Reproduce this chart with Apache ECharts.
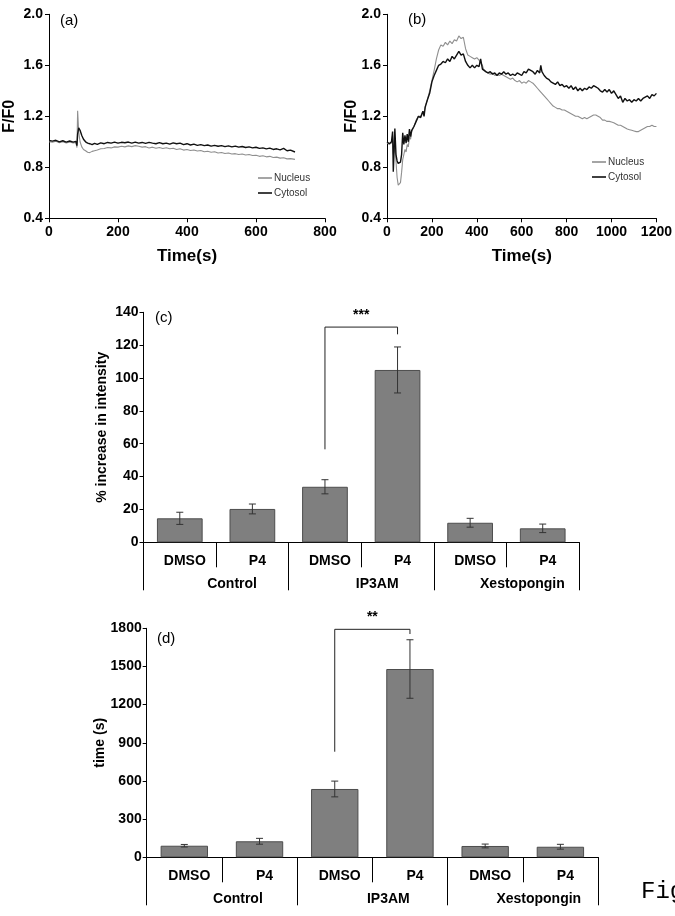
<!DOCTYPE html>
<html><head><meta charset="utf-8">
<script src="https://cdn.jsdelivr.net/npm/echarts@6/dist/echarts.min.js"></script>
<style>html,body{margin:0;padding:0;background:#fff}#c{width:675px;height:916px}</style>
</head><body><div id="c"></div>
<script>
// ---------- Panel (a) ----------
const tA = [0,10,20,30,40,50,60,70,78,81,83,86,90,95,100,106,112,118,125,132,140,150,160,170,180,190,200,210,220,230,240,250,260,270,280,290,300,310,320,330,340,350,360,370,380,390,400,410,420,430,440,450,460,470,480,490,500,510,520,530,540,550,560,570,580,590,600,610,620,630,640,650,660,670,680,690,700,713];
const cytA = [1.01,1.005,1.012,1.0,1.008,0.998,1.006,0.997,1.003,0.97,1.06,1.11,1.09,1.05,1.02,1.0,0.99,0.985,0.978,0.988,0.98,0.992,0.985,0.995,0.99,0.998,0.99,0.996,0.993,0.998,0.99,0.997,0.99,0.995,0.988,0.996,0.99,0.985,0.993,0.985,0.99,0.982,0.992,0.985,0.99,0.978,0.985,0.975,0.982,0.972,0.978,0.97,0.975,0.966,0.972,0.965,0.97,0.962,0.968,0.96,0.966,0.958,0.963,0.955,0.96,0.952,0.957,0.948,0.952,0.944,0.95,0.94,0.945,0.937,0.948,0.93,0.935,0.92];
const nucA = [1.0,0.996,1.004,0.993,1.0,0.99,0.998,0.99,0.995,0.955,1.244,1.08,1.0,0.96,0.94,0.93,0.918,0.915,0.925,0.93,0.935,0.945,0.948,0.955,0.952,0.96,0.958,0.965,0.96,0.968,0.962,0.97,0.965,0.958,0.962,0.952,0.958,0.95,0.955,0.948,0.953,0.945,0.95,0.94,0.945,0.935,0.94,0.932,0.936,0.928,0.932,0.922,0.926,0.918,0.922,0.912,0.916,0.908,0.912,0.904,0.907,0.9,0.904,0.896,0.9,0.892,0.895,0.886,0.89,0.882,0.886,0.877,0.88,0.872,0.875,0.866,0.868,0.862];

// ---------- Panel (b) ----------
const tB = [0,10,20,25,28,32,35,40,45,50,55,60,65,70,75,80,85,90,95,100,105,110,120,130,140,150,160,165,170,180,190,200,210,220,230,240,250,260,270,280,290,300,310,320,330,340,350,360,370,380,390,400,410,417,425,430,440,450,460,470,480,490,500,510,520,530,540,550,560,570,580,590,600,610,620,630,640,650,660,670,680,685,690,700,710,720,730,740,750,760,770,780,790,800,810,820,830,840,850,860,870,880,890,900,910,920,930,940,950,960,970,980,990,1000,1010,1020,1030,1040,1050,1060,1070,1080,1090,1100,1110,1120,1130,1140,1150,1160,1170,1180,1190,1200];
const cytB = [1.0,0.985,1.0,1.08,0.765,0.95,1.105,0.9,0.85,0.83,0.82,0.84,0.9,1.07,0.98,1.05,0.99,1.06,1.0,1.1,1.04,1.09,1.12,1.16,1.2,1.19,1.24,1.2,1.27,1.33,1.38,1.47,1.52,1.56,1.6,1.61,1.63,1.62,1.65,1.63,1.67,1.65,1.68,1.71,1.68,1.69,1.63,1.6,1.58,1.6,1.58,1.6,1.59,1.65,1.57,1.56,1.55,1.54,1.55,1.53,1.54,1.52,1.54,1.53,1.55,1.53,1.54,1.52,1.53,1.52,1.54,1.53,1.52,1.55,1.54,1.57,1.56,1.55,1.53,1.56,1.54,1.6,1.55,1.52,1.5,1.49,1.47,1.46,1.45,1.47,1.44,1.45,1.43,1.44,1.42,1.44,1.41,1.43,1.4,1.42,1.4,1.42,1.41,1.43,1.42,1.44,1.43,1.42,1.4,1.39,1.41,1.39,1.41,1.38,1.4,1.37,1.34,1.36,1.31,1.34,1.32,1.33,1.31,1.33,1.32,1.34,1.32,1.34,1.35,1.36,1.34,1.37,1.36,1.38];
const nucB = [0.99,0.98,0.99,1.05,0.9,0.92,1.0,0.85,0.72,0.66,0.65,0.68,0.76,0.86,0.9,0.94,0.92,0.98,0.96,1.04,1.02,1.08,1.12,1.17,1.2,1.2,1.24,1.22,1.28,1.33,1.4,1.48,1.56,1.65,1.72,1.76,1.75,1.78,1.76,1.79,1.77,1.8,1.79,1.83,1.81,1.82,1.73,1.68,1.67,1.66,1.65,1.66,1.64,1.62,1.6,1.57,1.55,1.54,1.53,1.54,1.52,1.53,1.52,1.53,1.52,1.51,1.5,1.49,1.5,1.48,1.47,1.48,1.46,1.47,1.46,1.48,1.47,1.46,1.44,1.42,1.4,1.39,1.38,1.36,1.34,1.32,1.3,1.28,1.27,1.26,1.26,1.25,1.25,1.24,1.23,1.22,1.21,1.2,1.2,1.19,1.18,1.19,1.18,1.19,1.2,1.21,1.21,1.2,1.19,1.17,1.17,1.16,1.16,1.155,1.15,1.14,1.13,1.13,1.12,1.11,1.1,1.095,1.09,1.085,1.08,1.08,1.09,1.1,1.11,1.12,1.12,1.13,1.12,1.12];

// ---------- Panels (c) and (d) ----------
const subCats = ['DMSO','P4','DMSO','P4','DMSO','P4'];
const groups = ['Control','IP3AM','Xestopongin'];
const intensity = [14.6, 20.3, 33.8, 104.9, 11.9, 8.5];
const intensityErr = [3.7, 3.0, 4.3, 14.0, 2.7, 2.6];
const timeVals = [91, 126, 537, 1480, 89, 83];
const timeErr = [10, 23, 62, 230, 15, 19];
// significance brackets: [leftIndex, rightIndex, leftBottom, top, rightBottom, label]
const sigC = [[2, 3, 56.6, 131, 126.6, '***']];
const sigD = [[2, 3, 830, 1792, 1755, '**']];

const F = "'Liberation Sans', Arial, sans-serif";
const black = '#000';
const tickFont = {fontFamily: F, fontWeight: 'bold', fontSize: 14, color: '#000'};

function pairs(t, v){ return t.map((x,i)=>[x, v[i]]); }

function lineX(idx, max, nameGap){
  return {type:'value', gridIndex: idx, min:0, max:max, interval:200,
    axisLine:{show:true, onZero:false, lineStyle:{color:black}},
    axisTick:{show:true, length:4, lineStyle:{color:black}},
    axisLabel:Object.assign({margin:7, formatter:v=>String(v)}, tickFont),
    splitLine:{show:false},
    name:'Time(s)', nameLocation:'middle', nameGap:nameGap, nameMoveOverlap:false,
    nameTextStyle:{fontFamily:F, fontWeight:'bold', fontSize:17, color:'#000'}};
}
function lineY(idx, nameGap){
  return {type:'value', gridIndex: idx, min:0.4, max:2.0, interval:0.4,
    axisLine:{show:true, lineStyle:{color:black}},
    axisTick:{show:true, length:4, lineStyle:{color:black}},
    axisLabel:Object.assign({margin:6, formatter:v=>v.toFixed(1)}, tickFont),
    splitLine:{show:false},
    name:'F/F0', nameLocation:'middle', nameGap:nameGap, nameMoveOverlap:false,
    nameTextStyle:{fontFamily:F, fontWeight:'bold', fontSize:16, color:'#000'}};
}
function catX(idx){
  return {type:'category', gridIndex: idx, data: subCats, position:'bottom',
    axisLine:{show:true, lineStyle:{color:black}},
    axisTick:{show:true, length:25, lineStyle:{color:black}},
    axisLabel:Object.assign({margin:12, interval:0, padding:[0,0,0,10]}, tickFont),
    splitLine:{show:false}};
}
function groupX(idx){
  return {type:'category', gridIndex: idx, data: groups, position:'bottom',
    axisLine:{show:false},
    axisTick:{show:true, length:48, lineStyle:{color:black}},
    axisLabel:Object.assign({margin:35, interval:0, padding:[0,0,0,32]}, tickFont),
    splitLine:{show:false}};
}
function barY(idx, max, interval, name, nameGap){
  return {type:'value', gridIndex: idx, min:0, max:max, interval:interval,
    axisLine:{show:true, lineStyle:{color:black}},
    axisTick:{show:true, length:4, lineStyle:{color:black}},
    axisLabel:Object.assign({margin:5, formatter:v=>String(v)}, tickFont),
    splitLine:{show:false},
    name:name, nameLocation:'middle', nameGap:nameGap, nameMoveOverlap:false,
    nameTextStyle:{fontFamily:F, fontWeight:'bold', fontSize:14, color:'#000'}};
}
function bars(xi, yi, vals){
  return {type:'bar', xAxisIndex:xi, yAxisIndex:yi, data: vals, barWidth:'63%',
    itemStyle:{color:'#7f7f7f', borderColor:'#4d4d4d', borderWidth:1}, silent:true, z:2};
}
function errs(xi, yi, vals, e){
  return {type:'custom', xAxisIndex:xi, yAxisIndex:yi, z:5, silent:true,
    data: vals.map((v,i)=>[i, v-e[i], v+e[i]]),
    renderItem:function(params, api){
      const lo = api.coord([api.value(0), api.value(1)]);
      const hi = api.coord([api.value(0), api.value(2)]);
      const w = 3.5;
      const st = {stroke:'#333', lineWidth:1};
      return {type:'group', children:[
        {type:'line', shape:{x1:lo[0], y1:lo[1], x2:hi[0], y2:hi[1]}, style:st},
        {type:'line', shape:{x1:lo[0]-w, y1:lo[1], x2:lo[0]+w, y2:lo[1]}, style:st},
        {type:'line', shape:{x1:hi[0]-w, y1:hi[1], x2:hi[0]+w, y2:hi[1]}, style:st}
      ]};
    }};
}
function bracket(xi, yi, sig){
  return {type:'custom', xAxisIndex:xi, yAxisIndex:yi, z:5, silent:true,
    data: sig.map(s=>[s[0], s[1], s[2], s[3], s[4]]),
    renderItem:function(params, api){
      const s = sig[params.dataIndex];
      const a = api.coord([api.value(0), api.value(2)]);
      const b = api.coord([api.value(0), api.value(3)]);
      const c = api.coord([api.value(1), api.value(3)]);
      const d = api.coord([api.value(1), api.value(4)]);
      return {type:'group', children:[
        {type:'polyline', shape:{points:[a,b,c,d]}, style:{stroke:'#222', lineWidth:1, fill:null}},
        {type:'text', x:(b[0]+c[0])/2, y:b[1]-5, style:{text:s[5], fontFamily:F, fontWeight:'bold', fontSize:14, fill:'#000', align:'center', verticalAlign:'bottom'}}
      ]};
    }};
}
function lineSeries(name, xi, yi, data, color, w){
  return {type:'line', name:name, xAxisIndex:xi, yAxisIndex:yi, data:data, showSymbol:false, symbol:'none',
    lineStyle:{color:color, width:w}, itemStyle:{color:color}, silent:true, animation:false};
}
const legendStyle = {orient:'vertical', icon:'rect', itemWidth:14, itemHeight:1.6, itemGap:5,
  textStyle:{fontFamily:F, fontSize:10, color:'#333', padding:[0,0,0,-3]}, data:['Nucleus','Cytosol'], selectedMode:false};
const label = (t,x,y)=>({type:'text', x:x, y:y, style:{text:t, fontFamily:F, fontSize:15, fill:'#000', verticalAlign:'middle'}});

const chart = echarts.init(document.getElementById('c'), null, {renderer:'canvas'});
chart.setOption({
  animation:false,
  backgroundColor:'#fff',
  grid:[
    {left:49, top:14.3, width:276, height:204},
    {left:387, top:14.3, width:271.3, height:204},
    {left:143.5, top:312.3, width:435.5, height:230},
    {left:146.7, top:628.3, width:451.3, height:229}
  ],
  xAxis:[lineX(0,800,30), lineX(1,1200,30), catX(2), groupX(2), catX(3), groupX(3)],
  yAxis:[lineY(0,31), lineY(1,27),
    barY(2,140,20,'% increase in intensity',34),
    barY(3,1800,300,'time (s)',40)],
  legend:[
    Object.assign({left:253, top:168}, legendStyle),
    Object.assign({left:587, top:152}, legendStyle)
  ],
  series:[
    lineSeries('Nucleus',0,0,pairs(tA,nucA),'#8f8f8f',1.1),
    lineSeries('Cytosol',0,0,pairs(tA,cytA),'#111',1.4),
    lineSeries('Nucleus',1,1,pairs(tB,nucB),'#8f8f8f',1.1),
    lineSeries('Cytosol',1,1,pairs(tB,cytB),'#111',1.4),
    bars(2,2,intensity), errs(2,2,intensity,intensityErr), bracket(2,2,sigC),
    bars(4,3,timeVals), errs(4,3,timeVals,timeErr), bracket(4,3,sigD)
  ],
  graphic:[
    label('(a)',60,21), label('(b)',408,20), label('(c)',155,318), label('(d)',157,639),
    {type:'text', x:641, y:892, style:{text:'Fig', fontFamily:"'Liberation Mono', 'Courier New', monospace", fontSize:24, fill:'#000', verticalAlign:'middle'}}
  ]
});
</script>
</body></html>
